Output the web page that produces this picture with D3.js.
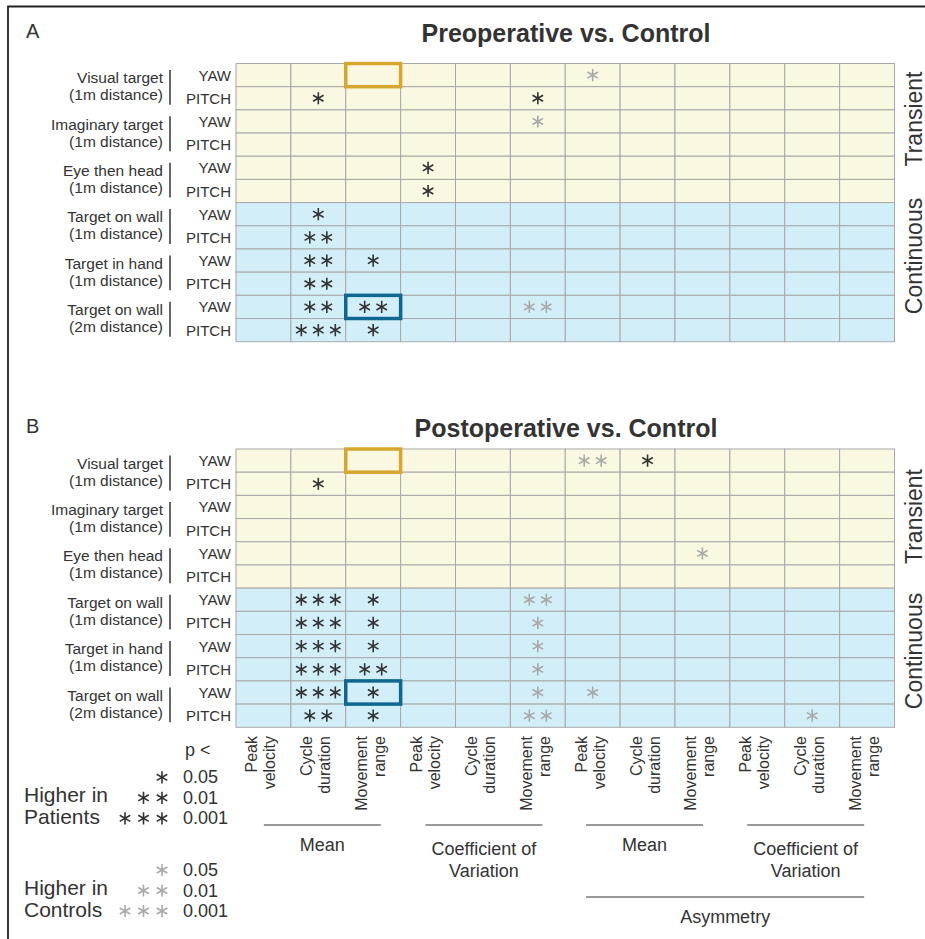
<!DOCTYPE html>
<html><head><meta charset="utf-8">
<script src="https://cdn.jsdelivr.net/npm/d3@7"></script>
<style>
body{margin:0;background:#fff}
text{font-family:"Liberation Sans",Arial,Helvetica,sans-serif;fill:#333}
</style>
</head><body><svg id="c" width="925" height="939"></svg>
<script>
// ---------------- data ----------------
const conditions = ["Visual target","Imaginary target","Eye then head","Target on wall","Target in hand","Target on wall"];
const distances = ["(1m distance)","(1m distance)","(1m distance)","(1m distance)","(1m distance)","(2m distance)"];
const planes = ["YAW","PITCH"];
const measureLine1 = ["Peak","Cycle","Movement"];
const measureLine2 = ["velocity","duration","range"];
const statGroups = [["Mean"],["Coefficient of","Variation"],["Mean"],["Coefficient of","Variation"]];
const superGroup = "Asymmetry";
const sectionLabels = ["Transient","Continuous"];
const panelTitles = ["Preoperative vs. Control","Postoperative vs. Control"];
const panelLetters = ["A","B"];
// [row, column, level]  level>0: higher in patients, level<0: higher in controls
const preopStars = [
  [0,6,-1],
  [1,1,1],[1,5,1],
  [2,5,-1],
  [4,3,1],
  [5,3,1],
  [6,1,1],
  [7,1,2],
  [8,1,2],[8,2,1],
  [9,1,2],
  [10,1,2],[10,2,2],[10,5,-2],
  [11,1,3],[11,2,1]
];
const postopStars = [
  [0,6,-2],[0,7,1],
  [1,1,1],
  [4,8,-1],
  [6,1,3],[6,2,1],[6,5,-2],
  [7,1,3],[7,2,1],[7,5,-1],
  [8,1,3],[8,2,1],[8,5,-1],
  [9,1,3],[9,2,2],[9,5,-1],
  [10,1,3],[10,2,1],[10,5,-1],[10,6,-1],
  [11,1,2],[11,2,1],[11,5,-2],[11,10,-1]
];
const highlightGold = [0,2];
const highlightBlue = [10,2];
const pLevels = ["0.05","0.01","0.001"];
const legendGroups = ["Patients","Controls"];

// ---------------- drawing ----------------
const svg = d3.select("#c");
const DARK = "#333", GRAY = "#a9a9a9";
const YELLOW = "#faf8e0", BLUE = "#d2eff9", GRID = "#a8a8a8";
const starSym = d3.symbol(d3.symbolAsterisk, 104);

// frame
svg.append("path").attr("d","M8,939V6.5H925").attr("fill","none").attr("stroke","#222").attr("stroke-width",1.8);

const x = d3.scaleBand().domain(d3.range(12)).range([236, 894.5]);
const bw = x.bandwidth();

const panels = [
  {top:63.5, bottom:341.7, titleY:42, letterY:38, transY:119, contY:256, stars:preopStars},
  {top:449, bottom:727.3, titleY:437, letterY:433, transY:516.5, contY:651, stars:postopStars}
];

panels.forEach((p, pi) => {
  const y = d3.scaleBand().domain(d3.range(12)).range([p.top, p.bottom]);
  const bh = y.bandwidth();
  const g = svg.append("g");

  g.append("text").attr("x",26).attr("y",p.letterY).attr("font-size",20).text(panelLetters[pi]);
  g.append("text").attr("x",566).attr("y",p.titleY).attr("text-anchor","middle")
    .attr("font-size",25).attr("font-weight","bold").text(panelTitles[pi]);

  const cells = [];
  d3.range(12).forEach(r => d3.range(12).forEach(c => cells.push({r,c})));
  g.selectAll("rect.cell").data(cells).join("rect").attr("class","cell")
    .attr("x", d => x(d.c)).attr("y", d => y(d.r))
    .attr("width", bw).attr("height", bh)
    .attr("fill", d => d.r < 6 ? YELLOW : BLUE)
    .attr("stroke", GRID).attr("stroke-width",1);

  // plane labels
  g.selectAll("text.plane").data(d3.range(12)).join("text").attr("class","plane")
    .attr("x",231).attr("y", r => y(r) + bh/2 + 5.5)
    .attr("text-anchor","end").attr("font-size",15).text(r => planes[r % 2]);

  // condition labels
  conditions.forEach((cname, i) => {
    const gt = y(2*i), gb = y(2*i+1) + bh;
    const cy = (gt + gb) / 2;
    g.append("text").attr("x",163).attr("y",cy-3.5).attr("text-anchor","end").attr("font-size",15.5).text(cname);
    g.append("text").attr("x",163).attr("y",cy+13.5).attr("text-anchor","end").attr("font-size",15.5).text(distances[i]);
    g.append("line").attr("x1",170).attr("x2",170).attr("y1",gt+6.5).attr("y2",gb-5)
      .attr("stroke","#333").attr("stroke-width",1.5);
  });

  // stars
  const pts = [];
  p.stars.forEach(([r,c,v]) => {
    const n = Math.abs(v);
    for (let i = 0; i < n; i++) pts.push({
      cx: x(c) + bw/2 + (i - (n-1)/2) * 17,
      cy: y(r) + bh/2,
      col: v > 0 ? DARK : GRAY
    });
  });
  g.selectAll("path.star").data(pts).join("path").attr("class","star")
    .attr("d", starSym).attr("transform", d => `translate(${d.cx},${d.cy})`)
    .attr("fill","none").attr("stroke", d => d.col).attr("stroke-width",1.6);

  // highlight boxes
  [[highlightGold,"#d6a630"],[highlightBlue,"#0f6690"]].forEach(([hc,col]) => {
    g.append("rect").attr("x",x(hc[1])).attr("y",y(hc[0])).attr("width",bw).attr("height",bh)
      .attr("fill","none").attr("stroke",col).attr("stroke-width",3.5);
  });

  // section labels
  [[sectionLabels[0],p.transY],[sectionLabels[1],p.contY]].forEach(([t,cy]) => {
    g.append("text").attr("transform",`translate(921.5,${cy}) rotate(-90)`)
      .attr("text-anchor","middle").attr("font-size",23).text(t);
  });
});

// column labels (below panel B)
d3.range(12).forEach(c => {
  const cx = x(c) + bw/2;
  const m = c % 3;
  [[measureLine1[m], -6],[measureLine2[m], 12]].forEach(([t,dx]) => {
    svg.append("text").attr("transform",`translate(${cx+dx},736) rotate(-90)`)
      .attr("text-anchor","end").attr("font-size",16).text(t);
  });
});

// group underlines
const lineOffsets = [4, 1, -3, -6.5];
const groupCenters = statGroups.map((s,gi) => (x(3*gi) + x(3*gi+2) + bw)/2 + lineOffsets[gi]);
statGroups.forEach((lines, gi) => {
  const cx = groupCenters[gi];
  svg.append("line").attr("x1",cx-58.5).attr("x2",cx+58.5).attr("y1",825).attr("y2",825)
    .attr("stroke","#333").attr("stroke-width",1);
  if (lines.length === 1) {
    svg.append("text").attr("x",cx).attr("y",851).attr("text-anchor","middle").attr("font-size",18).text(lines[0]);
  } else {
    lines.forEach((t,li) => svg.append("text").attr("x",cx).attr("y",854.5 + li*22)
      .attr("text-anchor","middle").attr("font-size",18).text(t));
  }
});
const ax1 = groupCenters[2]-58.5, ax2 = groupCenters[3]+58.5;
svg.append("line").attr("x1",ax1).attr("x2",ax2).attr("y1",897).attr("y2",897).attr("stroke","#333").attr("stroke-width",1);
svg.append("text").attr("x",(ax1+ax2)/2).attr("y",923).attr("text-anchor","middle").attr("font-size",18).text(superGroup);

// legend
svg.append("text").attr("x",185).attr("y",756).attr("font-size",18).text("p <");
const legendTops = [783.3, 876];
legendGroups.forEach((lg, li) => {
  const base = legendTops[li];
  const col = li === 0 ? DARK : GRAY;
  pLevels.forEach((pv, k) => {
    const by = base + k*20.5;
    svg.append("text").attr("x",183).attr("y",by).attr("font-size",18).text(pv);
    for (let s = 0; s <= k; s++) {
      svg.append("path").attr("d", starSym)
        .attr("transform",`translate(${162 - s*18.5},${by-6})`)
        .attr("fill","none").attr("stroke",col).attr("stroke-width",1.6);
    }
  });
  svg.append("text").attr("x",24).attr("y",base+18.5).attr("font-size",21).text("Higher in");
  svg.append("text").attr("x",24).attr("y",base+40.5).attr("font-size",21).text(lg);
});
</script>
</body></html>
